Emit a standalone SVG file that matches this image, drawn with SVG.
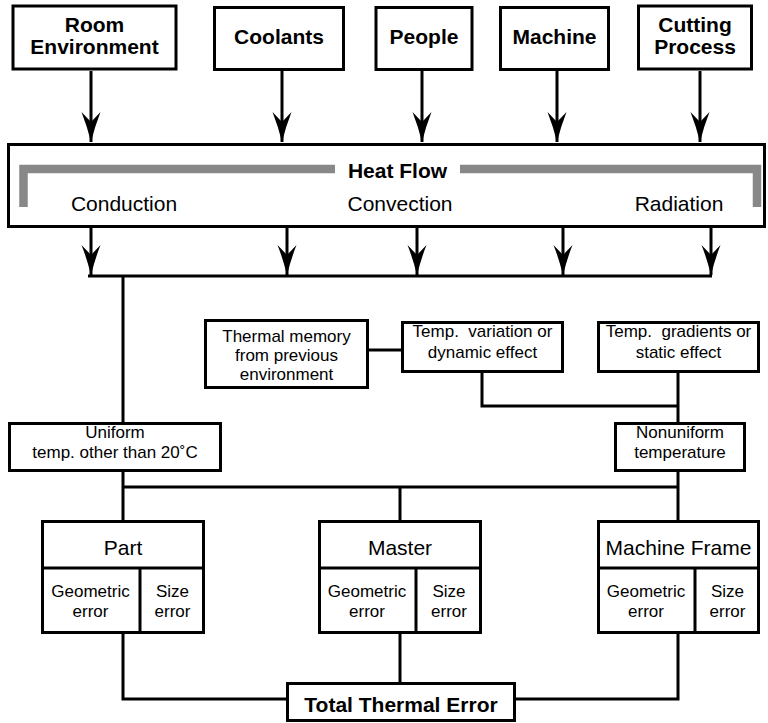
<svg xmlns="http://www.w3.org/2000/svg" width="768" height="723" viewBox="0 0 768 723">
<style>
text{font-family:"Liberation Sans",Arial,sans-serif;fill:#000;text-anchor:middle}
.b{font-weight:bold;font-size:21px}
.m{font-size:21px}
.s{font-size:17px}
.box{fill:#fff;stroke:#000;stroke-width:3}
.ln{fill:none;stroke:#000;stroke-width:3}
.gr{fill:none;stroke:#888;stroke-width:8.5}
</style>
<defs>
<marker id="ah" markerUnits="userSpaceOnUse" markerWidth="34" markerHeight="22" viewBox="-31 -11 33 22" refX="0" refY="0" orient="auto">
<path d="M0,0 Q-16,-4 -30,-9.5 L-20,0 L-30,9.5 Q-16,4 0,0Z" fill="#000"/>
</marker>
</defs>
<g id="connectors">
<path class="ln" d="M91,71 V142" marker-end="url(#ah)"/>
<path class="ln" d="M282,71 V142" marker-end="url(#ah)"/>
<path class="ln" d="M422,71 V142" marker-end="url(#ah)"/>
<path class="ln" d="M557,71 V142" marker-end="url(#ah)"/>
<path class="ln" d="M700,71 V142" marker-end="url(#ah)"/>
<path class="ln" d="M91,227 V275" marker-end="url(#ah)"/>
<path class="ln" d="M287,227 V275" marker-end="url(#ah)"/>
<path class="ln" d="M417,227 V275" marker-end="url(#ah)"/>
<path class="ln" d="M563,227 V275" marker-end="url(#ah)"/>
<path class="ln" d="M711,227 V275" marker-end="url(#ah)"/>
<path class="ln" d="M88,276 H712"/>
<path class="ln" d="M123,276 V422"/>
<path class="ln" d="M369,350 H401"/>
<path class="ln" d="M482,373 V406 H678"/>
<path class="ln" d="M678,373 V422"/>
<path class="ln" d="M123,472 V520"/>
<path class="ln" d="M678,472 V520"/>
<path class="ln" d="M123,487 H678"/>
<path class="ln" d="M400,487 V520"/>
<path class="ln" d="M123,634 V699 H287"/>
<path class="ln" d="M400,634 V683"/>
<path class="ln" d="M678,634 V699 H515"/>
</g>
<g id="room-environment">
<rect class="box" x="13" y="6" width="163" height="63"/>
<text class="b" x="94.5" y="32">Room</text>
<text class="b" x="94.5" y="54">Environment</text>
</g>
<g id="coolants">
<rect class="box" x="214.5" y="7.5" width="129" height="62"/>
<text class="b" x="279" y="44">Coolants</text>
</g>
<g id="people">
<rect class="box" x="376" y="7.5" width="96" height="62"/>
<text class="b" x="424" y="44">People</text>
</g>
<g id="machine">
<rect class="box" x="500.5" y="7.5" width="108" height="62"/>
<text class="b" x="554.5" y="44">Machine</text>
</g>
<g id="cutting-process">
<rect class="box" x="638.5" y="6" width="113" height="63"/>
<text class="b" x="695" y="32">Cutting</text>
<text class="b" x="695" y="54">Process</text>
</g>
<g id="heat-flow">
<rect class="box" x="8.5" y="144.5" width="756" height="82"/>
<path class="gr" d="M335,169 H23.5 V207"/>
<path class="gr" d="M460,169 H757 V207"/>
<text class="b" x="397.5" y="178">Heat Flow</text>
<text class="m" x="124" y="211">Conduction</text>
<text class="m" x="400" y="211">Convection</text>
<text class="m" x="679" y="211">Radiation</text>
</g>
<g id="thermal-memory">
<rect class="box" x="205.5" y="320.5" width="162" height="67"/>
<text class="s" x="286.5" y="342">Thermal memory</text>
<text class="s" x="286.5" y="361">from previous</text>
<text class="s" x="286.5" y="380">environment</text>
</g>
<g id="temp-variation">
<rect class="box" x="402.5" y="322.5" width="160" height="49"/>
<text class="s" x="482.5" y="337" xml:space="preserve">Temp.  variation or</text>
<text class="s" x="482.5" y="358">dynamic effect</text>
</g>
<g id="temp-gradients">
<rect class="box" x="598.5" y="322.5" width="160" height="49"/>
<text class="s" x="678.5" y="337" xml:space="preserve">Temp.  gradients or</text>
<text class="s" x="678.5" y="358">static effect</text>
</g>
<g id="uniform-temp">
<rect class="box" x="9.5" y="423.5" width="211" height="47"/>
<text class="s" x="115" y="438">Uniform</text>
<text class="s" x="115" y="458">temp. other than 20˚C</text>
</g>
<g id="nonuniform-temp">
<rect class="box" x="615.5" y="423.5" width="129" height="47"/>
<text class="s" x="680" y="438">Nonuniform</text>
<text class="s" x="680" y="458">temperature</text>
</g>
<g id="part">
<rect class="box" x="42.5" y="521.5" width="161" height="111"/>
<path class="ln" d="M42.5,568 H203.5 M140,568 V632.5"/>
<text class="m" x="123" y="555">Part</text>
<text class="s" x="90.5" y="597">Geometric</text>
<text class="s" x="90.5" y="617">error</text>
<text class="s" x="172.5" y="597">Size</text>
<text class="s" x="172.5" y="617">error</text>
</g>
<g id="master">
<rect class="box" x="319.5" y="521.5" width="161" height="111"/>
<path class="ln" d="M319.5,568 H480.5 M416,568 V632.5"/>
<text class="m" x="400" y="555">Master</text>
<text class="s" x="367" y="597">Geometric</text>
<text class="s" x="367" y="617">error</text>
<text class="s" x="449" y="597">Size</text>
<text class="s" x="449" y="617">error</text>
</g>
<g id="machine-frame">
<rect class="box" x="598.5" y="521.5" width="160" height="111"/>
<path class="ln" d="M598.5,568 H758.5 M695,568 V632.5"/>
<text class="m" x="678.5" y="555">Machine Frame</text>
<text class="s" x="646" y="597">Geometric</text>
<text class="s" x="646" y="617">error</text>
<text class="s" x="727.5" y="597">Size</text>
<text class="s" x="727.5" y="617">error</text>
</g>
<g id="total-thermal-error">
<rect class="box" x="287.5" y="683.5" width="227" height="37"/>
<text class="b" x="401" y="712">Total Thermal Error</text>
</g>
</svg>
